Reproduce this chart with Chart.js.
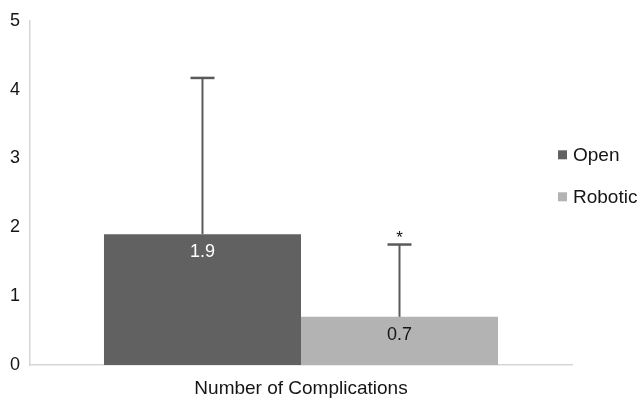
<!DOCTYPE html>
<html>
<head>
<meta charset="utf-8">
<script src="https://cdn.jsdelivr.net/npm/chart.js@4/dist/chart.umd.min.js"></script>
<style>
  html, body { margin: 0; padding: 0; background: #ffffff; }
  #wrap { width: 640px; height: 399px; position: relative; }
</style>
</head>
<body>
<div id="wrap"><canvas id="chart"></canvas></div>
<script>
// Complications per patient: open vs robotic surgery (mean, upper SD)
const categories = ['Number of Complications'];
const seriesNames = ['Open', 'Robotic'];
const openValues = [1.9];
const roboticValues = [0.7];
const openErrors = [2.27];
const roboticErrors = [1.05];
const significance = ['', '*'];
const yTicks = [0, 1, 2, 3, 4, 5];

const FONT = '"Liberation Sans", Arial, Helvetica, sans-serif';
const seriesColors = ['#616161', '#b3b3b3'];
const labelColors = ['#ffffff', '#151515'];
const errorSets = [openErrors, roboticErrors];

// Upward-only error bars with a cap, plus significance marks
const errorBarPlugin = {
  id: 'errorBars',
  afterDatasetsDraw(chart) {
    const ctx = chart.ctx;
    const y = chart.scales.y;
    ctx.save();
    chart.data.datasets.forEach((ds, di) => {
      const meta = chart.getDatasetMeta(di);
      meta.data.forEach((bar, i) => {
        const v = ds.data[i];
        const top = y.getPixelForValue(v + errorSets[di][i]);
        const base = y.getPixelForValue(v);
        ctx.strokeStyle = '#5a5a5a';
        ctx.lineWidth = 2;
        ctx.beginPath();
        ctx.moveTo(bar.x, base);
        ctx.lineTo(bar.x, top);
        ctx.stroke();
        ctx.lineWidth = 2.5;
        ctx.beginPath();
        ctx.moveTo(bar.x - 12, top);
        ctx.lineTo(bar.x + 12, top);
        ctx.stroke();
        const mark = significance[di];
        if (mark) {
          ctx.fillStyle = '#111111';
          ctx.font = '17px ' + FONT;
          ctx.textAlign = 'center';
          ctx.textBaseline = 'middle';
          ctx.fillText(mark, bar.x, top - 6);
        }
      });
    });
    ctx.restore();
  }
};

// Value labels just inside the top of each bar
const valueLabelPlugin = {
  id: 'valueLabels',
  afterDatasetsDraw(chart) {
    const ctx = chart.ctx;
    ctx.save();
    ctx.font = '18px ' + FONT;
    ctx.textAlign = 'center';
    ctx.textBaseline = 'middle';
    chart.data.datasets.forEach((ds, di) => {
      const meta = chart.getDatasetMeta(di);
      meta.data.forEach((bar, i) => {
        ctx.fillStyle = labelColors[di];
        ctx.fillText(ds.data[i].toFixed(1), bar.x, bar.y + 18);
      });
    });
    ctx.restore();
  }
};

// Right-hand legend with small square swatches
const sideLegendPlugin = {
  id: 'sideLegend',
  afterDraw(chart) {
    const ctx = chart.ctx;
    const area = chart.chartArea;
    const boxX = area.right - 14;
    const rowY = [area.top + 134, area.top + 176];
    ctx.save();
    ctx.font = '19px ' + FONT;
    ctx.textAlign = 'left';
    ctx.textBaseline = 'middle';
    chart.data.datasets.forEach((ds, di) => {
      ctx.fillStyle = ds.backgroundColor;
      ctx.fillRect(boxX, rowY[di] - 4.5, 9, 9);
      ctx.fillStyle = '#151515';
      ctx.fillText(ds.label, boxX + 15, rowY[di] + 1);
    });
    ctx.restore();
  }
};

new Chart(document.getElementById('chart'), {
  type: 'bar',
  data: {
    labels: categories,
    datasets: [
      { label: seriesNames[0], data: openValues, backgroundColor: seriesColors[0] },
      { label: seriesNames[1], data: roboticValues, backgroundColor: seriesColors[1] }
    ]
  },
  options: {
    responsive: true,
    maintainAspectRatio: false,
    animation: false,
    layout: { padding: { left: 0, top: 20, right: 68, bottom: 0 } },
    categoryPercentage: 0.727,
    barPercentage: 1.0,
    plugins: {
      legend: { display: false },
      tooltip: { enabled: false }
    },
    scales: {
      x: {
        grid: { display: false, drawTicks: false },
        border: { display: true, color: '#d6d6d6', width: 1.5 },
        ticks: { color: '#151515', font: { family: FONT, size: 19 }, padding: 12 },
        afterFit(scale) { scale.height = 34; }
      },
      y: {
        min: 0,
        max: 5,
        grid: { display: false, drawTicks: false },
        border: { display: true, color: '#d6d6d6', width: 1.5 },
        afterBuildTicks(scale) { scale.ticks = yTicks.map(v => ({ value: v })); },
        ticks: { color: '#151515', font: { family: FONT, size: 18 }, padding: 10 },
        afterFit(scale) { scale.width = 30; }
      }
    }
  },
  plugins: [errorBarPlugin, valueLabelPlugin, sideLegendPlugin]
});
</script>
</body>
</html>
